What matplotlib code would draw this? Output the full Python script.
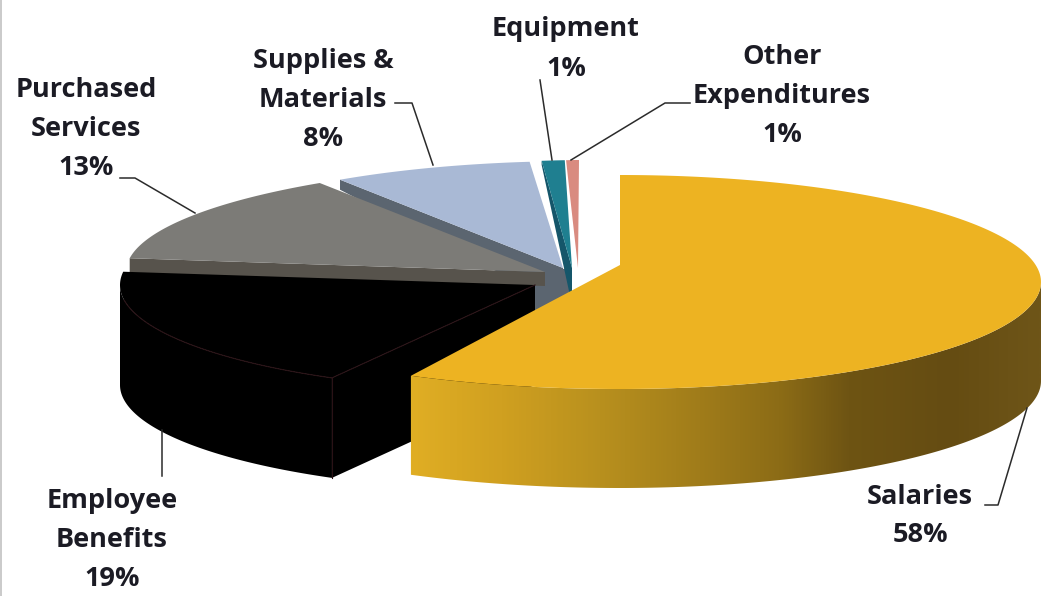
#!/usr/bin/env python3
import numpy as np
import matplotlib
matplotlib.use('Agg')
import matplotlib.pyplot as plt
from matplotlib.patches import Polygon
from matplotlib.colors import LinearSegmentedColormap

categories = ['Salaries', 'Employee\nBenefits', 'Purchased\nServices', 'Supplies &\nMaterials', 'Equipment', 'Other\nExpenditures']
values = [58, 19, 13, 8, 1, 1]

top_colors = ['#EDB322', '#000000', '#7C7B77', '#A9B9D5', '#1F7F90', '#D98B80']
side_colors = ['#E0AE22', '#000000', '#57534C', '#5B6570', '#15566A', '#D98B80']

# apex x, apex y, rim centre x, rim centre y, rim rx on the right, rim rx on the left, rim ry
geom = [
    (620, 265, 620, 282, 421, 434, 107),
    (535, 285, 529, 285, 409, 409, 106),
    (545, 272, 596, 272, 470, 470, 110),
    (563, 268, 581, 259, 410, 410, 98),
    (572, 268, 588, 262, 370, 370, 102),
    (578, 268, 579, 262, 206, 206, 102),
]

label_xy = [(920, 516), (112, 540), (86, 129), (323, 100), (566, 49), (782, 96)]
leaders = [
    ([1027, 998, 985], [408, 505, 505]),
    ([162, 162], [430, 476]),
    ([120, 135, 195], [178, 178, 213]),
    ([395, 412, 433], [103, 103, 165]),
    ([540, 552], [80, 160]),
    ([690, 665, 571], [103, 103, 160]),
]

# side colour of the big slice, by pixel x
grad_x = [410, 500, 600, 700, 780, 850, 950, 1041]
grad_c = ['#E0AE24', '#D0A020', '#B8901E', '#A07C1A', '#8C6C16', '#6E5413', '#654C12', '#6E5518']


def rim(i, ang):
    cx, cy, rr, rl, ry = geom[i][2:]
    s = np.sin(ang)
    return cx + np.where(s > 0, rr, rl) * s, cy - ry * np.cos(ang)


edges = np.radians(np.cumsum([0] + values) * 3.6)

fig = plt.figure(figsize=(10.43, 5.96), dpi=100)
ax = fig.add_axes([0, 0, 1, 1])
ax.set_xlim(0, 1043)
ax.set_ylim(596, 0)
ax.axis('off')
ax.axvspan(0, 1.5, color='#CBCBCB', lw=0)


def top_face(i):
    t = np.linspace(edges[i], edges[i + 1], 120)
    x, y = rim(i, t)
    ax.fill(np.r_[geom[i][0], x], np.r_[geom[i][1], y], color=top_colors[i], lw=0)


def radial_side(i, ang, d_rim, d_apex):
    x, y = rim(i, ang)
    ax.fill([x, geom[i][0], geom[i][0], x],
            [y, geom[i][1], geom[i][1] + d_apex, y + d_rim], color=side_colors[i], lw=0)


# back slices first
radial_side(3, edges[3], 10, 38)
top_face(3)

# block under the middle of the pie
ax.fill([geom[1][0], geom[4][0], geom[4][0], geom[1][0]],
        [geom[2][1], geom[4][1], geom[4][1] + 38, geom[2][1] + 50], color=side_colors[3], lw=0)

radial_side(2, edges[2], 16, 14)
top_face(2)

radial_side(4, edges[4], 4, 37)
top_face(4)
top_face(5)

# employee benefits, front wall then top
t = np.linspace(edges[1], 1.5 * np.pi, 120)
x, y = rim(1, t)
ax.fill(np.r_[x, x[::-1]], np.r_[y, y[::-1] + 100], color='black', lw=0)
ax.fill([geom[1][0], x[0], x[0], geom[1][0]], [geom[1][1], y[0], y[0] + 100, geom[1][1] + 100], color='black', lw=0)
top_face(1)
front = t < np.radians(262)
ax.plot(x[front], y[front], color='#2A1216', lw=0.8)
ax.plot([geom[1][0], x[0]], [geom[1][1], y[0]], color='#2A1216', lw=0.8)
ax.plot([x[0], x[0]], [y[0], y[0] + 100], color='#2A1216', lw=0.8)

# salaries, wall shaded along x
t = np.linspace(np.pi / 2, edges[1], 260)
x, y = rim(0, t)
pos = (np.array(grad_x) - grad_x[0]) / (grad_x[-1] - grad_x[0])
cmap = LinearSegmentedColormap.from_list('wall', list(zip(pos, grad_c)))
wall = Polygon(np.c_[np.r_[x, x[::-1]], np.r_[y, y[::-1] + 99]], closed=True, fc='none', ec='none', transform=ax.transData)
ax.add_patch(wall)
im = ax.imshow(np.linspace(0, 1, 632).reshape(1, -1), cmap=cmap, aspect='auto',
               extent=(grad_x[0], grad_x[-1], 596, 0), zorder=1.5)
im.set_clip_path(wall)
ax.set_xlim(0, 1043)
ax.set_ylim(596, 0)
t = np.linspace(edges[0], edges[1], 200)
x, y = rim(0, t)
ax.fill(np.r_[geom[0][0], x], np.r_[geom[0][1], y], color=top_colors[0], lw=0, zorder=1.6)

for lx, ly in leaders:
    ax.plot(lx, ly, color='#2B2B2B', lw=1.1, zorder=3)

for i, name in enumerate(categories):
    ax.text(label_xy[i][0], label_xy[i][1], '%s\n%d%%' % (name, values[i]), ha='center', va='center',
            family='Open Sans', fontweight='bold', fontsize=19.5, color='#1B1B24', linespacing=1.65)

fig.savefig('out.png', dpi=100)
